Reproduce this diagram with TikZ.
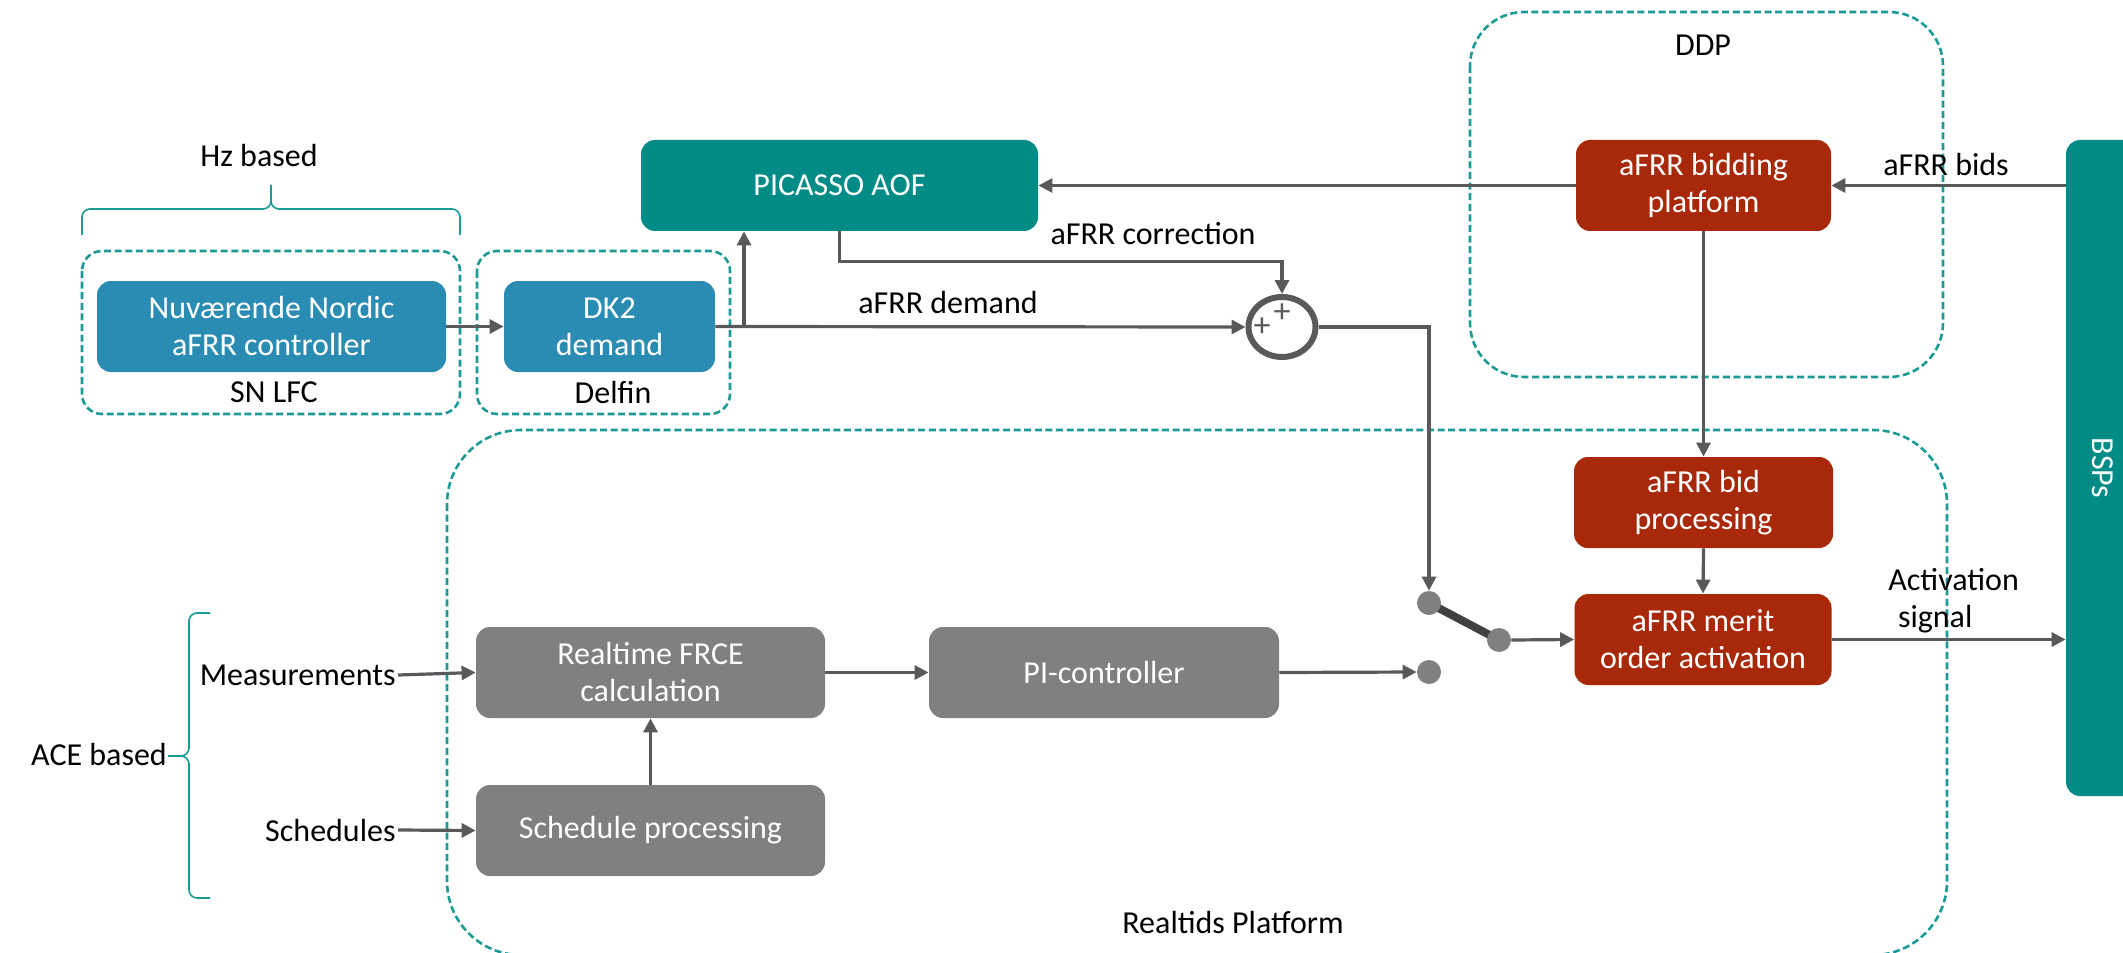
\documentclass[tikz,border=0pt]{standalone}
\usepackage{fontspec}
\usepackage{graphicx}
\setmainfont{Carlito}
\usetikzlibrary{arrows.meta,calc,shapes.geometric}
\definecolor{arrowgray}{HTML}{595959}
\definecolor{dashteal}{HTML}{1B9A96}
\definecolor{boxteal}{HTML}{008B86}
\definecolor{boxblue}{HTML}{2B8CB3}
\definecolor{boxred}{HTML}{A8290A}
\definecolor{boxgray}{HTML}{808080}
\definecolor{levergray}{HTML}{404040}
\begin{document}
\begin{tikzpicture}[x=0.5pt,y=-0.5pt,
  font=\fontsize{16}{18.5}\selectfont,
  box/.style={rounded corners=7pt, text=white, align=center, minimum height=45.5pt, inner sep=2pt},
  bluebox/.style={box, fill=boxblue},
  tealbox/.style={box, fill=boxteal},
  redbox/.style={box, fill=boxred},
  graybox/.style={box, fill=boxgray},
  arr/.style={draw=arrowgray, line width=1.6pt, -{Triangle[length=7pt,width=7pt]}},
  dbox/.style={draw=dashteal, line width=1.3pt, dash pattern=on 3.5pt off 1.8pt},
  bracestyle/.style={draw=dashteal, line width=0.8pt, rounded corners=4pt},
  lbl/.style={text=black, inner sep=1pt},
  dot/.style={circle, fill=boxgray, minimum size=12pt, inner sep=0pt},
  plus/.style={text=arrowgray, inner sep=0pt, font=\fontsize{17}{17}\selectfont},
]
\useasboundingbox (0,0) rectangle (2123,952);

% dashed containers
\draw[dbox, rounded corners=10pt] (82,251) rectangle (460,414);
\draw[dbox, rounded corners=10pt] (477,251) rectangle (730,414);
\draw[dbox, rounded corners=27pt] (1470,12) rectangle (1943,377);
\draw[dbox, rounded corners=37pt] (447,430) rectangle (1947,955);

% braces
\draw[bracestyle] (82,235) -- (82,209) -- (271,209) -- (271,185);
\draw[bracestyle] (271,185) -- (271,209) -- (460,209) -- (460,235);
\draw[bracestyle] (210,613) -- (189,613) -- (189,756) -- (168,756);
\draw[bracestyle] (168,756) -- (189,756) -- (189,898) -- (210,898);

% boxes
\node[bluebox, minimum width=174.5pt] (nuv) at (271.5,326.5) {Nuværende Nordic\\aFRR controller};
\node[bluebox, minimum width=105.5pt] (dk2) at (609.5,326.5) {DK2\\demand};
\node[tealbox, minimum width=198.5pt] (picasso) at (839.5,185.5) {PICASSO AOF};
\node[redbox, minimum width=127.5pt] (bidding) at (1703.5,185.5) {aFRR bidding\\platform};
\node[redbox, minimum width=129.5pt] (bidproc) at (1703.5,502.5) {aFRR bid\\processing};
\node[redbox, minimum width=128.5pt] (merit) at (1703,639.5) {aFRR merit\\order activation};
\node[graybox, minimum width=174.5pt] (frce) at (650.5,672.5) {Realtime FRCE\\calculation};
\node[graybox, minimum width=175pt] (pi) at (1104,672.5) {PI-controller};
\node[graybox, minimum width=174.5pt] (sched) at (650.5,830.5) {Schedule processing};

\begin{scope}
\clip (0,0) rectangle (2123,952);
\node[tealbox, minimum width=37pt, minimum height=328pt] (bsps) at (2103,468) {\rotatebox{-90}{BSPs}};
\end{scope}

% summation
\node[ellipse, draw=arrowgray, line width=3pt, minimum width=33.5pt, minimum height=30pt, inner sep=0pt] (sum) at (1282,327) {};
\node[plus] (p1) at (1262,327) {+};
\node[plus] (p2) at (1282,313) {+};

% switch
\coordinate (s1) at (1429,603);
\coordinate (s2) at (1499,640);
\draw[draw=levergray, line width=4pt] (s1) -- (s2);
\node[dot] (sw1) at (s1) {};
\node[dot] (sw2) at (s2) {};
\node[dot] (sw3) at (1429,672) {};

% labels
\node[lbl] (hz) at (259,156) {Hz based};
\node[lbl] (snlfc) at (274,392) {SN LFC};
\node[lbl] (delfin) at (613,392) {Delfin};
\node[lbl] (ddp) at (1703,45) {DDP};
\node[lbl] (realtids) at (1233,922) {Realtids Platform};
\node[lbl] (dem) at (948,303) {aFRR demand};
\node[lbl] (corr) at (1153,234) {aFRR correction};
\node[lbl] (bids) at (1946,165) {aFRR bids};
\node[lbl, align=left, anchor=west] (act) at (1886,601) {Activation\\\hspace{0.3em}signal};
\node[lbl, anchor=east] (meas) at (398,675) {Measurements};
\node[lbl, anchor=east] (schl) at (398,830) {Schedules};
\node[lbl] (ace) at (99,754) {ACE based};

% connectors
\draw[arr] (nuv.east) -- (dk2.west);
\draw[arr] (dk2.east) -- (sum.west);
\coordinate (br) at (744,326.5);
\draw[arr] (br) -- (br |- picasso.south);
\draw[arr] (picasso.south) -- ++(0,30) -| (sum.north);
\draw[arr] (sum.east) -| (sw1.north);
\draw[arr] (bidding.west) -- (picasso.east);
\draw[arr] (bsps.west |- bidding.east) -- (bidding.east);
\draw[arr] (bidding.south) -- (bidproc.north);
\draw[arr] (bidproc.south) -- (merit.north);
\draw[arr] (merit.east) -- (merit.east -| bsps.west);
\draw[arr] (sw2.east) -- (merit.west);
\draw[arr] (pi.east) -- (sw3.west);
\draw[arr] (frce.east) -- (pi.west);
\draw[arr] (sched.north) -- (frce.south);
\draw[arr] (meas.east) -- (frce.west);
\draw[arr] (schl.east) -- (sched.west);
\end{tikzpicture}
\end{document}
